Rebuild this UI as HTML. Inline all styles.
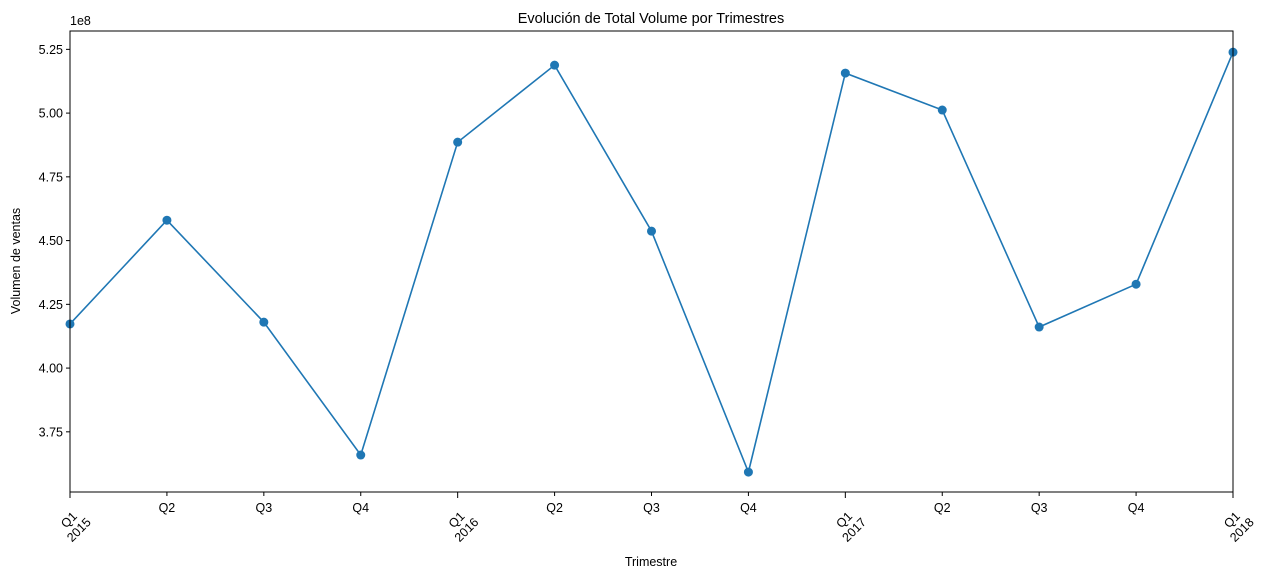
<!DOCTYPE html>
<html><head><meta charset="utf-8"><style>
body{margin:0;background:#fff;}
svg{display:block;font-family:"Liberation Sans","DejaVu Sans",sans-serif;}
</style></head><body>
<svg id="chart" width="1266" height="579">
<text x="651" y="23" font-size="14.5" text-anchor="middle">Evolución de Total Volume por Trimestres</text>
<text x="651" y="566" font-size="12.5" text-anchor="middle">Trimestre</text>
<text transform="translate(20,261) rotate(-90)" font-size="12.5" text-anchor="middle">Volumen de ventas</text>
<text x="70" y="25" font-size="12.5">1e8</text>
<g id="axes"></g>
<g id="marks"></g>
<rect x="70" y="31" width="1163" height="461" fill="none" stroke="#000" stroke-width="1"/>
</svg>
<script>
const categories=["Q1\n2015","Q2","Q3","Q4","Q1\n2016","Q2","Q3","Q4","Q1\n2017","Q2","Q3","Q4","Q1\n2018"];
const values=[4.173,4.580,4.180,3.659,4.886,5.188,4.537,3.592,5.157,5.012,4.161,4.329,5.239];
const yTicks=[3.75,4.00,4.25,4.50,4.75,5.00,5.25];
const yTickLabels=["3.75","4.00","4.25","4.50","4.75","5.00","5.25"];
const L=70,R=1233,T=31,B=492,yMin=3.514,yMax=5.322;
const ns="http://www.w3.org/2000/svg";
function xS(i){return L+(R-L)*i/(categories.length-1);}
function yS(v){return B-(v-yMin)/(yMax-yMin)*(B-T);}
function mk(t,a,p){const e=document.createElementNS(ns,t);for(const k in a)e.setAttribute(k,a[k]);p.appendChild(e);return e;}
const ax=document.getElementById('axes'),mg=document.getElementById('marks');
yTicks.forEach((v,i)=>{const y=yS(v);
const t=mk('line',{x1:L-4,x2:L,y1:y,y2:y,stroke:'#000'},ax);


const tx=mk('text',{x:L-7,y:y+4.5,'font-size':12.5,'text-anchor':'end'},ax);
tx.textContent=yTickLabels[i];


});
categories.forEach((c,i)=>{const x=xS(i);
const major=c.indexOf("\n")>=0;
const t=mk('line',{x1:x,x2:x,y1:B,y2:B+(major?6:4),stroke:'#000'},ax);


let g;
if(major){
g=mk('text',{transform:`translate(${x+4},${B+33}) rotate(-45)`,'font-size':12.5,'text-anchor':'middle'},ax);
c.split("\n").forEach((s,j)=>{const ts=mk('tspan',{x:0,y:j?11:-3},g);ts.textContent=s;});
}else{
g=mk('text',{x:x,y:B+20,'font-size':12.5,'text-anchor':'middle'},ax);
g.textContent=c;
}


});
const pts=values.map((v,i)=>xS(i)+','+yS(v)).join(' ');
const pl=mk('polyline',{points:pts,fill:'none',stroke:'#1f77b4','stroke-width':1.6},mg);


values.forEach((v,i)=>{const c=mk('circle',{cx:xS(i),cy:yS(v),r:4.5,fill:'#1f77b4'},mg);


});
</script>
</body></html>
